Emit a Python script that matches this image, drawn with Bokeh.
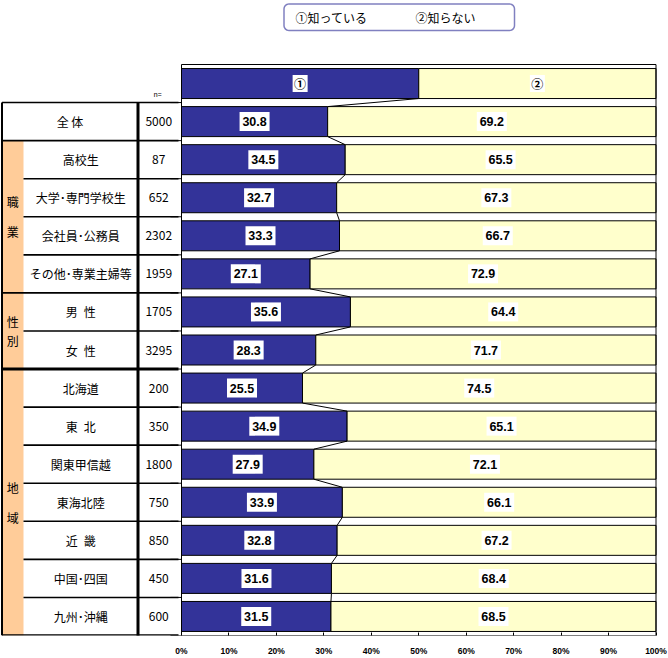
import numpy as np
from bokeh.plotting import figure
from bokeh.models import Range1d, FixedTicker, PrintfTickFormatter
from bokeh.core.properties import value
from bokeh.embed import file_html
from bokeh.resources import INLINE

# ---------------- data ----------------
series_names = ["①知っている", "②知らない"]
header_marks = ["①", "②"]
header_values = [50, 50]
categories = ["全 体", "高校生", "大学･専門学校生", "会社員･公務員", "その他･専業主婦等",
              "男\u2002性", "女\u2002性", "北海道", "東\u2002北", "関東甲信越", "東海北陸",
              "近\u2002畿", "中国･四国", "九州･沖縄"]
n_values = [5000, 87, 652, 2302, 1959, 1705, 3295, 200, 350, 1800, 750, 850, 450, 600]
know = [30.8, 34.5, 32.7, 33.3, 27.1, 35.6, 28.3, 25.5, 34.9, 27.9, 33.9, 32.8, 31.6, 31.5]
dont = [69.2, 65.5, 67.3, 66.7, 72.9, 64.4, 71.7, 74.5, 65.1, 72.1, 66.1, 67.2, 68.4, 68.5]
group_names = ["職業", "性別", "地域"]
group_first = [2, 6, 8]
group_last = [5, 7, 14]
x_ticks = [0, 10, 20, 30, 40, 50, 60, 70, 80, 90, 100]

# ---------------- layout (page pixels -> data) ----------------
W, H = 668, 658
BOTTOM = 23
PX0, PX100 = 181.0, 655.5
K = (PX100 - PX0) / 100.0
TOP_PY, BOT_PY = 64.0, float(H - BOTTOM)
ROW = (BOT_PY - TOP_PY) / 15.0


def X(px):
    return (px - PX0) / K


def Y(py):
    return -0.5 + (py - TOP_PY) / ROW


BLUE = "#333399"
YELLOW = "#FFFFCC"
ORANGE = "#FFCC99"
JP = value("Noto Sans CJK JP")

p = figure(width=W, height=H, output_backend="svg", toolbar_location=None,
           x_range=Range1d(X(0), X(W)), y_range=Range1d(14.5, Y(0)),
           y_axis_location=None, x_axis_location="below",
           min_border_left=0, min_border_right=0, min_border_top=0,
           min_border_bottom=BOTTOM, outline_line_color=None,
           background_fill_color="white", border_fill_color="white")
p.grid.visible = False

rows = list(range(1, len(categories) + 1))
BH = 30.0 / ROW

# header bar
hl = [0, header_values[0]]
hr = [header_values[0], header_values[0] + header_values[1]]
p.hbar(y=[0, 0], left=hl, right=hr, height=BH, fill_color=[BLUE, YELLOW],
       line_color="black", line_width=1)

# data bars
right2 = [k + d for k, d in zip(know, dont)]
p.hbar(y=rows, left=0, right=know, height=BH, fill_color=BLUE, line_color="black", line_width=1)
p.hbar(y=rows, left=know, right=right2, height=BH, fill_color=YELLOW, line_color="black", line_width=1)

# chart border
p.quad(left=[0], right=[100], top=[-0.5], bottom=[14.5], fill_color=None,
       line_color="black", line_width=1)

# series connector lines
bounds = [header_values[0]] + know
yb = [0] + rows
p.segment(x0=bounds[:-1], y0=[y + BH / 2 for y in yb[:-1]],
          x1=bounds[1:], y1=[y - BH / 2 for y in yb[1:]],
          line_color="black", line_width=1)

# value labels with white boxes
hx = [(a + b) / 2 for a, b in zip(hl, hr)]
p.rect(x=hx, y=[0, 0], width=15, height=17, width_units="screen", height_units="screen",
       fill_color="white", line_color=None)
p.text(x=hx, y=[0, 0], text=header_marks, text_align="center", text_baseline="middle",
       text_font=JP, text_font_size="12px", text_font_style="bold", text_color="black")

cx = [k / 2 for k in know] + [k + d / 2 for k, d in zip(know, dont)]
cy = rows + rows
ct = ["%.1f" % v for v in know] + ["%.1f" % v for v in dont]
p.rect(x=cx, y=cy, width=30, height=19, width_units="screen", height_units="screen",
       fill_color="white", line_color=None)
p.text(x=cx, y=cy, text=ct, text_align="center", text_baseline="middle",
       text_font=value("Liberation Sans"), text_font_size="12.5px", text_font_style="bold",
       text_color="black")

# y-axis boundary ticks
bnd = [r + 0.5 for r in range(0, 15)]
p.segment(x0=[X(170)] * len(bnd), y0=bnd, x1=[0] * len(bnd), y1=bnd,
          line_color="black", line_width=1)

# ---------------- table ----------------
T_L, T_G, T_V, T_R = 1.5, 23.0, 137.5, 178.0
p.quad(left=[X(T_L)] * 3, right=[X(T_G)] * 3,
       top=[f - 0.5 for f in group_first], bottom=[l + 0.5 for l in group_last],
       fill_color=ORANGE, line_color=None)

full_b = [0.5, 1.5] + [l + 0.5 for l in group_last]
part_b = []
for f, l in zip(group_first, group_last):
    part_b += [r + 0.5 for r in range(f, l)]
lw_full = []
for b in full_b:
    if b == 7.5:
        lw_full.append(3)
    elif b == 14.5:
        lw_full.append(2.5)
    else:
        lw_full.append(1.6)
p.segment(x0=[X(T_L)] * len(full_b), y0=full_b, x1=[X(T_R)] * len(full_b), y1=full_b,
          line_color="black", line_width=lw_full)
p.segment(x0=[X(T_G)] * len(part_b), y0=part_b, x1=[X(T_R)] * len(part_b), y1=part_b,
          line_color="black", line_width=1.6)
p.segment(x0=[X(T_L), X(T_V)], y0=[0.5, 0.5], x1=[X(T_L), X(T_V)], y1=[14.5, 14.6],
          line_color="black", line_width=[2, 3])

lab_x = [X((T_L + T_V) / 2)] + [X((T_G + T_V) / 2)] * (len(categories) - 1)
p.text(x=lab_x, y=rows, text=categories, text_align="center", text_baseline="middle",
       text_font=JP, text_font_size="12px", text_color="black")
p.text(x=[X((T_V + T_R) / 2 + 0.5)] * len(n_values), y=rows, text=[str(v) for v in n_values],
       text_align="center", text_baseline="middle", text_font=JP, text_font_size="12px",
       text_color="black")
p.text(x=[X(157)], y=[0.5 - 4 / ROW], text=["n="], text_align="center",
       text_baseline="bottom", text_font=JP, text_font_size="7px", text_color="black")

gx, gy, gt = [], [], []
for name, f, l in zip(group_names, group_first, group_last):
    c = (f + l) / 2.0
    off = 0.25 if (l - f) < 2 else 0.4
    gx += [X((T_L + T_G) / 2)] * 2
    gy += [c - off, c + off]
    gt += [name[0], name[1]]
p.text(x=gx, y=gy, text=gt, text_align="center", text_baseline="middle",
       text_font=JP, text_font_size="12px", text_color="black")

# ---------------- legend box ----------------
def rounded_box(x0, y0, x1, y1, r, n=8):
    xs, ys = [], []
    corners = [(x1 - r, y0 + r, -90, 0), (x1 - r, y1 - r, 0, 90),
               (x0 + r, y1 - r, 90, 180), (x0 + r, y0 + r, 180, 270)]
    for cxp, cyp, a0, a1 in corners:
        for a in np.linspace(np.radians(a0), np.radians(a1), n):
            xs.append(X(cxp + r * np.cos(a)))
            ys.append(Y(cyp + r * np.sin(a)))
    return xs, ys


bx, by = rounded_box(283.5, 3.5, 514, 30, 5)
p.patch(bx, by, fill_color="white", line_color="#8080C0", line_width=1.5)
p.text(x=[X(295), X(415)], y=[Y(17), Y(17)], text=series_names, text_align="left",
       text_baseline="middle", text_font=JP, text_font_size="12px", text_color="black")

# ---------------- x axis ----------------
ax = p.xaxis[0]
ax.ticker = FixedTicker(ticks=x_ticks)
ax.formatter = PrintfTickFormatter(format="%d%%")
ax.axis_line_color = None
ax.major_tick_in = 3
ax.major_tick_out = 0
ax.major_tick_line_color = "black"
ax.minor_tick_line_color = None
ax.major_label_standoff = 10
ax.major_label_text_font = "Liberation Sans"
ax.major_label_text_font_size = "8.5px"
ax.major_label_text_font_style = "bold"
ax.major_label_text_color = "black"

open("out.html", "w").write(file_html(p, INLINE))
